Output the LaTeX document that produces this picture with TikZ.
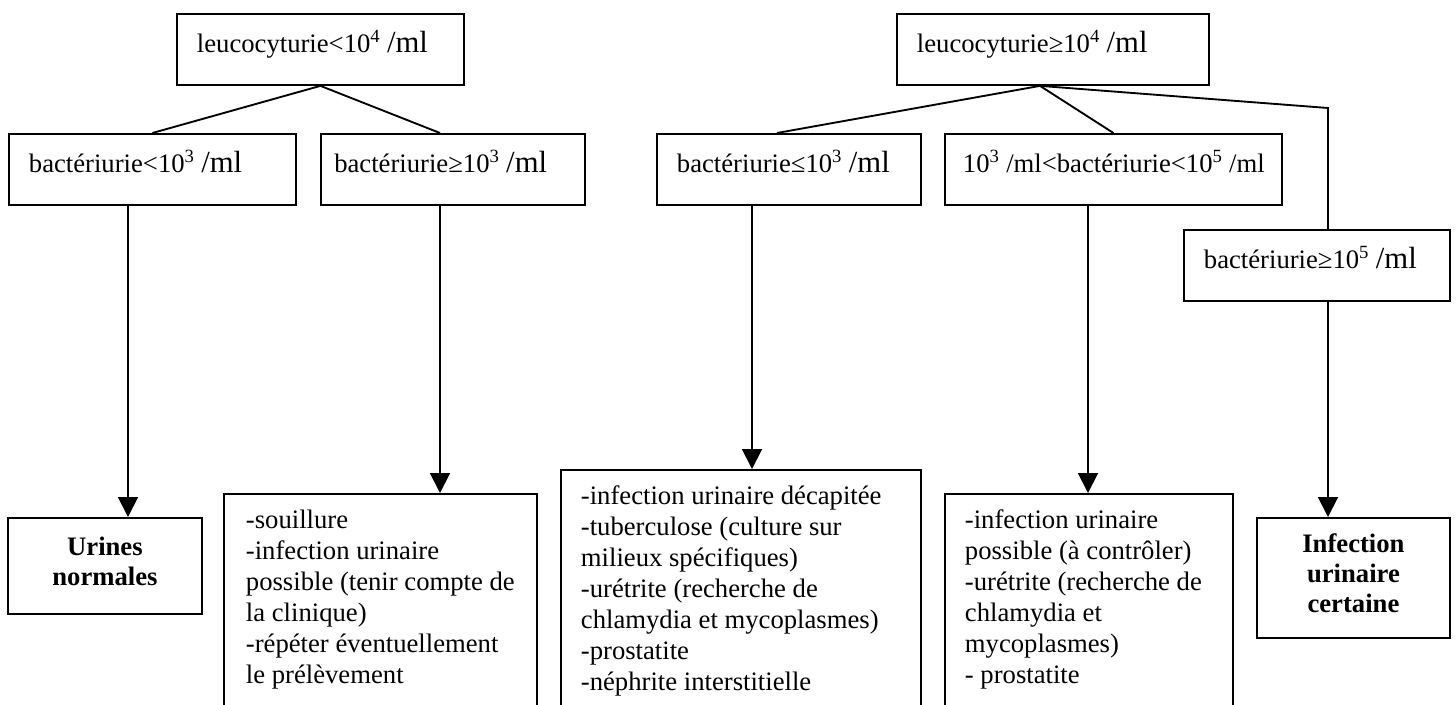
\documentclass[tikz,border=0pt]{standalone}
\usepackage{fontspec}
\setmainfont{Liberation Serif}
\usetikzlibrary{arrows.meta}
\newcommand{\boxtxt}[2]% #1=width, #2=lines of text
{\makebox[#1][l]{\begin{tabular}[t]{@{}l@{}}#2\end{tabular}}}
\newcommand{\perml}{{\fontsize{23}{23.25}\selectfont /ml}}

\begin{document}
\begin{tikzpicture}[x=0.75pt, y=-0.75pt, font=\fontsize{20}{23.25}\selectfont,
  boxed/.style={draw, line width=1.4pt, anchor=north west},
  cond/.style={boxed, inner xsep=15pt, inner ysep=0pt, text height=29.25pt, text depth=24pt},
  res/.style={boxed, inner xsep=15pt, inner ysep=0pt, text height=26pt, text depth=200pt},
  concl/.style={boxed, inner sep=0pt, align=center, font=\fontsize{20}{22.5}\selectfont\bfseries},
  link/.style={line width=1.4pt},
  arr/.style={link, -{Triangle[length=15pt,width=15pt]}}]
  \useasboundingbox (0,0) rectangle (1456,704);
  \clip (0,0) rectangle (1456,704);
  % columns of the connectors
  \coordinate (cA) at (128,0);
  \coordinate (cB) at (440,0);
  \coordinate (cR) at (1040,0);
  \coordinate (cF) at (777,0);
  \coordinate (cC) at (752,0);
  \coordinate (cD) at (1088,0);
  \coordinate (kink) at (1328,108);
  % leucocyturie < 10^4
  \node[cond] (L0) at (176,13) {\boxtxt{185.25pt}{leucocyturie<10\textsuperscript{4} \perml}};
  \node[cond] (L1a) at (8,133) {\boxtxt{185.25pt}{bactériurie<10\textsuperscript{3} \perml}};
  \node[cond, inner xsep=10pt] (L1b) at (320,133) {\boxtxt{178pt}{bactériurie≥10\textsuperscript{3} \perml}};
  \node[concl, minimum width=145.5pt, minimum height=72pt] (Un) at (7,517) {Urines\\normales\\[-15pt]};
  \node[res, inner xsep=16.5pt] (S) at (223,493) {\boxtxt{201.75pt}{-souillure\\-infection urinaire\\possible (tenir compte de\\la clinique)\\-répéter éventuellement\\le prélèvement}};
  % leucocyturie >= 10^4
  \node[cond] (R0) at (896,13) {\boxtxt{204pt}{leucocyturie≥10\textsuperscript{4} \perml}};
  \node[cond] (R1a) at (656,133) {\boxtxt{168pt}{bactériurie≤10\textsuperscript{3} \perml}};
  \node[cond, inner xsep=13.5pt] (R1b) at (944,133) {\boxtxt{225.75pt}{10\textsuperscript{3} /ml<bactériurie<10\textsuperscript{5} /ml}};
  \node[cond] (R1c) at (1183,229) {\boxtxt{169.5pt}{bactériurie≥10\textsuperscript{5} \perml}};
  \node[res] (D) at (560,469) {\boxtxt{240pt}{-infection urinaire décapitée\\-tuberculose (culture sur\\milieux spécifiques)\\-urétrite (recherche de\\chlamydia et mycoplasmes)\\-prostatite\\-néphrite interstitielle}};
  \node[res] (M) at (944,493) {\boxtxt{186pt}{-infection urinaire\\possible (à contrôler)\\-urétrite (recherche de\\chlamydia et\\mycoplasmes)\\- prostatite}};
  \node[concl, minimum width=144.75pt, minimum height=90pt] (In) at (1256,517) {Infection\\urinaire\\certaine\\[-15pt]};
  % branches
  \draw[link] (L0.south) -- (L1a.north);
  \draw[link] (L0.south) -- (L1b.north -| cB);
  \draw[link] (R0.south -| cR) -- (R1a.north -| cF);
  \draw[link] (R0.south -| cR) -- (R1b.north);
  \draw[link] (R0.south -| cR) -- (kink) -- (R1c.north -| kink);
  % arrows to the results
  \draw[arr] (L1a.south -| cA) -- (Un.north -| cA);
  \draw[arr] (L1b.south -| cB) -- (S.north -| cB);
  \draw[arr] (R1a.south -| cC) -- (D.north -| cC);
  \draw[arr] (R1b.south -| cD) -- (M.north -| cD);
  \draw[arr] (R1c.south -| kink) -- (In.north -| kink);
\end{tikzpicture}
\end{document}
